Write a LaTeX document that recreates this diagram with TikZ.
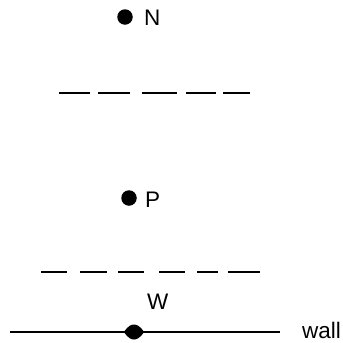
\documentclass[tikz,border=0pt]{standalone}
\usepackage{fontspec}
\setmainfont{Liberation Sans}
\begin{document}
\begin{tikzpicture}[x=1pt,y=-1pt,
  dotpt/.style={circle,fill=black,inner sep=0pt,minimum size=15.5pt},
  lbl/.style={anchor=base west,inner sep=0pt,font=\fontsize{22.5}{27}\selectfont},
  dashseg/.style={line width=2.6pt},
  wallline/.style={line width=1.8pt}]
\useasboundingbox (0,0) rectangle (343,343);
% dots and labels
\node[dotpt] (N) at (125,17) {};
\node[lbl] (Nl) at (144,25) {N};
\node[lbl] (Pl) at (145,207) {P};
\node[dotpt] (P) at (129,198) {};
\node[lbl] (W) at (147,309) {W};
\node[lbl] (wl) at (302,338) {wall};
% upper dashed line
\foreach \a/\b in {59/90,98/130,142/177,186/216,223/250}
  \draw[dashseg] (\a,93) -- (\b,93);
% lower dashed line
\foreach \a/\b in {41/67,80/107,118/144,159/185,197/218,228/260}
  \draw[dashseg] (\a,272) -- (\b,272);
% wall
\coordinate (wa) at (10,332);
\coordinate (wb) at (280,332);
\draw[wallline] (wa) -- (wb);
\coordinate (wd) at (134,332);
\fill ([xshift=-10pt]wd) .. controls ([xshift=-6pt,yshift=-6pt]wd) and ([xshift=-3pt,yshift=-7.5pt]wd) .. ([yshift=-7.5pt]wd)
  .. controls ([xshift=3pt,yshift=-7.5pt]wd) and ([xshift=6pt,yshift=-6pt]wd) .. ([xshift=10pt]wd)
  .. controls ([xshift=6pt,yshift=6pt]wd) and ([xshift=3pt,yshift=7.5pt]wd) .. ([yshift=7.5pt]wd)
  .. controls ([xshift=-3pt,yshift=7.5pt]wd) and ([xshift=-6pt,yshift=6pt]wd) .. cycle;
\end{tikzpicture}
\end{document}
